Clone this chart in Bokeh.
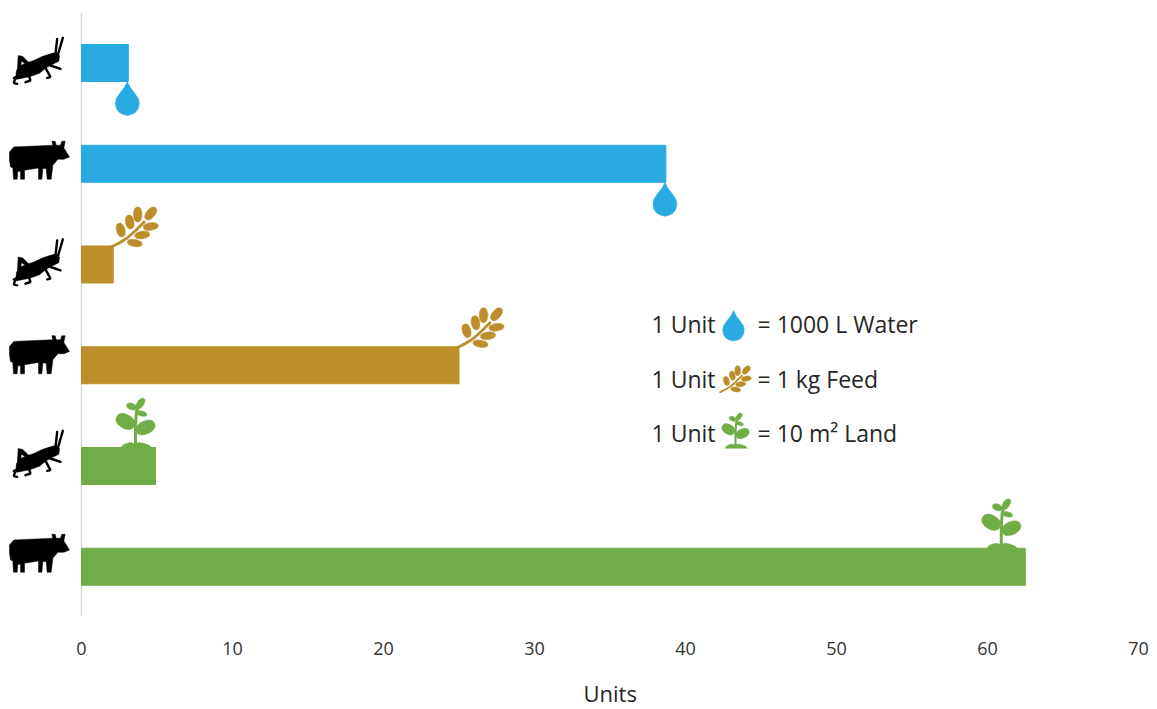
import math
from bokeh.core.properties import value
from bokeh.embed import file_html
from bokeh.models import ColumnDataSource, Range1d, Title
from bokeh.plotting import figure
from bokeh.resources import INLINE

# Resource use per animal, in units
animals = ["cricket", "cow", "cricket", "cow", "cricket", "cow"]
resources = ["water", "water", "feed", "feed", "land", "land"]
units = [3.1, 38.7, 2.1, 25.0, 4.9, 62.5]
colors = {"water": "#29ABE2", "feed": "#BB8E2B", "land": "#70AD47"}
x_ticks = [0, 10, 20, 30, 40, 50, 60, 70]
legend_rows = [
    ("water", "= 1000 L Water"),
    ("feed", "= 1 kg Feed"),
    ("land", "= 10 m² Land"),
]

WIDTH, HEIGHT = 1157, 709
FRAME_BOTTOM = 625
PX_PER_UNIT = 15.1
PX_PER_ROW = 100.75
X_ORIGIN, ROW_ORIGIN = 81, 62.5
FONT = "Open Sans"

p = figure(
    width=WIDTH, height=HEIGHT, output_backend="svg", toolbar_location=None,
    x_range=Range1d(-X_ORIGIN / PX_PER_UNIT, (WIDTH - X_ORIGIN) / PX_PER_UNIT),
    y_range=Range1d((FRAME_BOTTOM - ROW_ORIGIN) / PX_PER_ROW, -ROW_ORIGIN / PX_PER_ROW),
    y_axis_location=None, min_border=0, min_border_bottom=HEIGHT - FRAME_BOTTOM,
    outline_line_color=None, background_fill_color="white",
)
p.grid.visible = False


def sx(dx):
    return dx / PX_PER_UNIT


def sy(dy):
    return dy / PX_PER_ROW


def px_x(x):
    return (x - X_ORIGIN) / PX_PER_UNIT


def px_y(y):
    return (y - ROW_ORIGIN) / PX_PER_ROW


def place(points, ax, ay, scale=1.0):
    """Turn icon outline offsets (pixels) into data coordinates around an anchor."""
    return [ax + sx(x * scale) for x, _ in points], [ay + sy(y * scale) for _, y in points]


def leaf(cx, cy, length, width, angle):
    """Pointed oval leaf outline, centred on (cx, cy)."""
    pts = []
    a = math.radians(angle)
    for i in range(24):
        t = 2 * math.pi * i / 24
        u = length / 2 * math.cos(t)
        v = width / 2 * abs(math.sin(t)) ** 0.8 * math.copysign(1, math.sin(t))
        pts.append((cx + u * math.cos(a) - v * math.sin(a), cy + u * math.sin(a) + v * math.cos(a)))
    return pts


def art(points, x0, y0):
    """Icon artwork is sketched at triple size; bring it back to pixel offsets."""
    return [(x / 3 + x0, y / 3 + y0) for x, y in points]


# Icon outlines in pixel offsets from their anchor
DROP = [(0, 0), (3, 6), (7, 11), (11, 17), (12, 22), (11, 27), (8, 31), (4, 33), (0, 34),
        (-4, 33), (-8, 31), (-11, 27), (-12, 22), (-11, 17), (-7, 11), (-3, 6)]

WHEAT_LEAVES = [
    leaf(7.5, -16, 14, 8.5, 75), leaf(16.5, -24, 14, 8.5, 80), leaf(24.5, -31.5, 15, 8.5, 90),
    leaf(37.5, -32.5, 15, 8.5, -50), leaf(37.5, -19.5, 15, 7.5, -8), leaf(29, -11, 15, 7.5, -8),
    leaf(21.5, -3, 15, 7, 10),
]
WHEAT_STEM = [(-2, 1), (6, -3), (14, -8), (23, -16), (31, -24)]

PLANT_LEAVES = [
    leaf(-10, -26, 20, 14, 30), leaf(10, -20, 20, 13, -25), leaf(-4, -41, 10, 6.5, 20),
    leaf(5, -44, 12, 6.5, -55), leaf(6, -34, 11, 5, 15),
]
PLANT_SOIL = [(-15, 1), (-12, -3), (-6, -5), (-1, -4), (4, -5), (9, -4), (14, -2), (17, 1)]
PLANT_STEM = [(0, -3), (0, -22), (1, -36), (4, -46)]

# Animals, drawn on a triple-size sketch grid
COW = [(15, 50), (28, 35), (145, 30), (142, 18), (152, 18), (155, 30), (168, 30), (172, 18),
       (182, 18), (178, 38), (195, 65), (178, 72), (160, 72), (145, 90), (140, 132),
       (128, 132), (125, 100), (115, 100), (112, 132), (102, 132), (102, 98), (60, 105),
       (60, 132), (48, 132), (48, 108), (40, 108), (38, 132), (27, 132), (25, 98), (18, 95),
       (15, 75)]

CRICKET_BODY = [(45, 105), (60, 98), (85, 90), (110, 78), (135, 70), (150, 66), (162, 75),
                (160, 92), (140, 102), (122, 112), (102, 128), (75, 138), (50, 143),
                (30, 147), (33, 120)]
CRICKET_THIGH = [(38, 75), (52, 78), (72, 98), (60, 100), (48, 92), (45, 110), (35, 130)]
CRICKET_LINES = [
    [(150, 70), (155, 25)],
    [(158, 70), (172, 22)],
    [(30, 140), (25, 158), (35, 160)],
    [(25, 142), (45, 140)],
    [(70, 135), (75, 150), (60, 155)],
    [(120, 112), (135, 140), (125, 142)],
    [(135, 105), (165, 115)],
]

# The animal column does not share the bars' row spacing further down the chart
animal_shift = [0, 0, 0, -7, -10, -10]

fill_xs, fill_ys, fill_c = [], [], []
line_xs, line_ys, line_c, line_w = [], [], [], []


def add_fill(points, ax, ay, color, scale=1.0):
    xs, ys = place(points, ax, ay, scale)
    fill_xs.append(xs)
    fill_ys.append(ys)
    fill_c.append(color)


def add_line(points, ax, ay, color, width):
    xs, ys = place(points, ax, ay)
    line_xs.append(xs)
    line_ys.append(ys)
    line_c.append(color)
    line_w.append(width)


def draw_resource_icon(kind, ax, ay, scale=1.0):
    color = colors[kind]
    if kind == "water":
        add_fill(DROP, ax, ay, color, scale)
    elif kind == "feed":
        for shape in WHEAT_LEAVES:
            add_fill(shape, ax, ay, color, scale)
        add_line([(x * scale, y * scale) for x, y in WHEAT_STEM], ax, ay, color, 2.8 * scale)
    else:
        for shape in PLANT_LEAVES:
            add_fill(shape, ax, ay, color, scale)
        add_fill(PLANT_SOIL, ax, ay, color, scale)
        add_line([(x * scale, y * scale) for x, y in PLANT_STEM], ax, ay, color, 3 * scale)


# Vertical baseline at zero
p.segment(x0=[0], x1=[0], y0=[-0.5], y1=[5.49], line_color="#D9D9D9", line_width=1.5)

# Bars
rows = list(range(len(units)))
bar_height = 37 / PX_PER_ROW
bars = ColumnDataSource(dict(
    y=rows, right=units, color=[colors[r] for r in resources],
))
p.hbar(y="y", left=0, right="right", height=bar_height, color="color", source=bars)

# Icon at the end of every bar, animal icon beside the baseline
left_edge = -X_ORIGIN / PX_PER_UNIT
plant_inset = {4: 20, 5: 24}
for r, (animal, kind, val) in enumerate(zip(animals, resources, units)):
    row_y = r + sy(animal_shift[r])
    if animal == "cow":
        add_fill(art(COW, 4, -28.5), left_edge, row_y, "black")
    else:
        add_fill(art(CRICKET_BODY, 5, -32.5), left_edge, row_y, "black")
        add_fill(art(CRICKET_THIGH, 5, -32.5), left_edge, row_y, "black")
        for seg in CRICKET_LINES:
            add_line(art(seg, 5, -32.5), left_edge, row_y, "black", 2.4)
    if kind == "water":
        draw_resource_icon(kind, val - sx(1), r + bar_height / 2)
    elif kind == "feed":
        draw_resource_icon(kind, val, r - bar_height / 2)
    else:
        draw_resource_icon(kind, val - sx(plant_inset[r]), r - bar_height / 2)

# Key: text plus a small icon on each of the three rows
key_y = [px_y(y) for y in (323.5, 378.5, 432.5)]
key_icons = [(733, 310, 0.9), (721, 391, 0.66), (735, 447, 0.7)]
for (kind, _), (ix, iy, scale) in zip(legend_rows, key_icons):
    draw_resource_icon(kind, px_x(ix), px_y(iy), scale)

p.patches(xs=fill_xs, ys=fill_ys, fill_color=fill_c, line_color=fill_c, line_width=0.5)
p.multi_line(xs=line_xs, ys=line_ys, line_color=line_c, line_width=line_w, line_cap="round")

p.text(x=[px_x(651)] * 3, y=key_y, text=["1 Unit"] * 3, text_font=value(FONT),
       text_font_size="23px", text_color="#262626", text_align="left", text_baseline="middle")
p.text(x=[px_x(757)] * 3, y=key_y, text=[t for _, t in legend_rows], text_font=value(FONT),
       text_font_size="23px", text_color="#262626", text_align="left", text_baseline="middle")

# Horizontal axis: tick labels only, with the title centred under the 0-70 span
ax = p.xaxis[0]
ax.ticker = x_ticks
ax.bounds = (0, 70)
ax.axis_line_color = None
ax.major_tick_line_color = None
ax.minor_tick_line_color = None
ax.major_label_standoff = 10
ax.major_label_text_font = FONT
ax.major_label_text_font_size = "18px"
ax.major_label_text_color = "#333333"

# A blank title opens a gap between the tick labels and the axis title
p.add_layout(Title(text=" ", standoff=15, text_font_size="1px"), "below")
p.add_layout(Title(text="Units", align="left", offset=583, standoff=0, text_font=FONT,
                   text_font_size="22px", text_font_style="normal", text_color="#262626"),
             "below")

open("out.html", "w").write(file_html(p, INLINE))
